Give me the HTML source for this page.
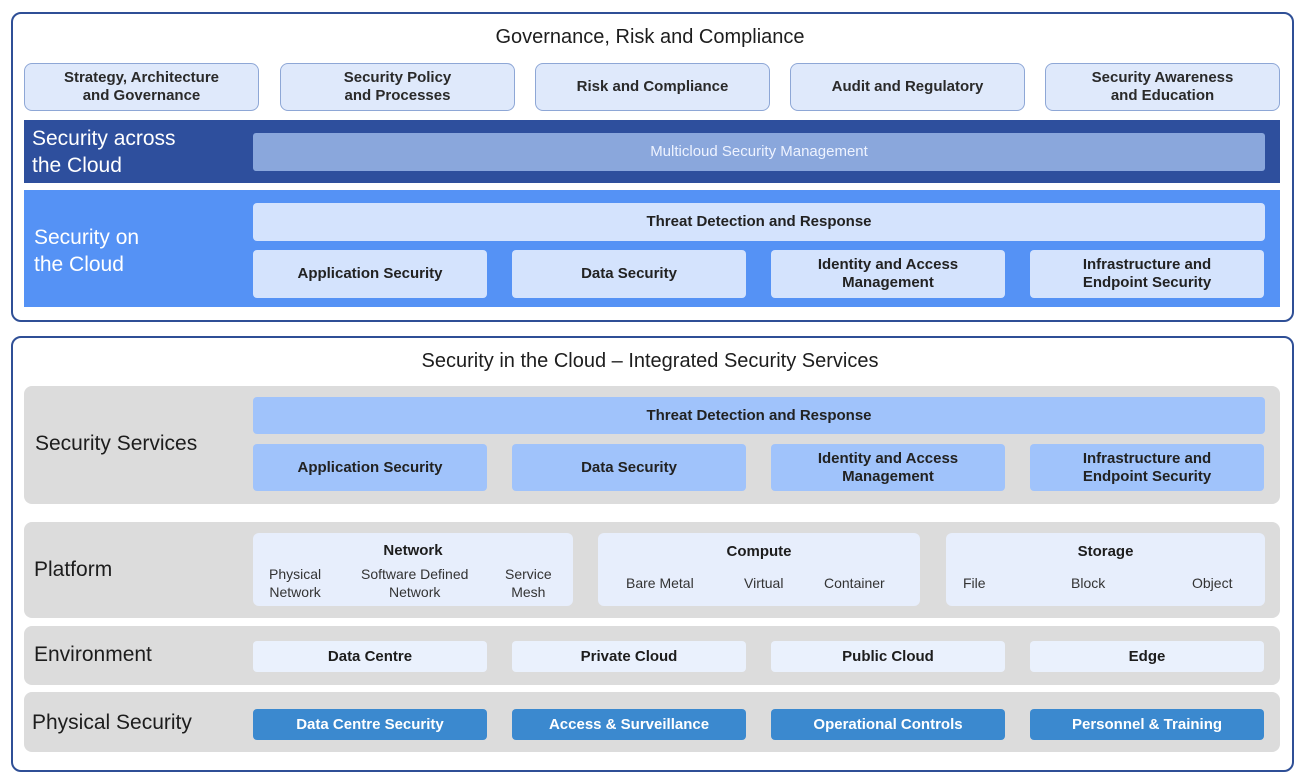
<!DOCTYPE html>
<html><head><meta charset="utf-8"><style>
body{margin:0;width:1300px;height:779px;background:#fff;font-family:"Liberation Sans",sans-serif;position:relative;overflow:hidden;color:#1d1d1d}
div{position:absolute;box-sizing:border-box}
.c{display:flex;align-items:center;justify-content:center;text-align:center;line-height:1.2}
.frame{border:2px solid #2f4f96;border-radius:10px}
.t{font-size:20px;width:1300px;left:0;text-align:center}
.g{background:#dfe9fb;border:1.5px solid #8ea7d6;border-radius:8px;top:63px;height:48px;width:235px;font-size:15px;font-weight:bold;color:#2a2a2a}
.w{background:#d4e3fd;border-radius:4px;font-size:15px;font-weight:bold;color:#222}
.s{background:#a0c3fb;border-radius:4px;font-size:15px;font-weight:bold;color:#222}
.band{background:#dcdcdc;border-radius:8px;left:24px;width:1256px}
.lbl{font-size:21px;left:34px;color:#1d1d1d}
.e{background:#eaf1fd;border-radius:4px;top:641px;height:31px;width:234px;font-size:15px;font-weight:bold}
.p{background:#3b89cf;border-radius:4px;top:709px;height:31px;width:234px;font-size:15px;font-weight:bold;color:#fff}
.sub{background:#e7eefc;border-radius:6px;top:533px;height:73px}
.h{font-size:15px;font-weight:bold;top:10px;left:0;right:0;text-align:center}
.i{font-size:14px;color:#333;line-height:18px;text-align:center}
</style></head><body>
<div class="frame" style="left:11px;top:12px;width:1283px;height:310px"></div>
<div class="t" style="top:26px">Governance, Risk and Compliance</div>
<div class="g c" style="left:24px">Strategy, Architecture<br>and Governance</div>
<div class="g c" style="left:280px">Security Policy<br>and Processes</div>
<div class="g c" style="left:535px">Risk and Compliance</div>
<div class="g c" style="left:790px">Audit and Regulatory</div>
<div class="g c" style="left:1045px">Security Awareness<br>and Education</div>
<div style="left:24px;top:120px;width:1256px;height:63px;background:#2e4f9d"></div>
<div style="left:32px;top:125px;font-size:21px;color:#fff;line-height:27px">Security across<br>the Cloud</div>
<div class="c" style="left:253px;top:133px;width:1012px;height:38px;background:#8aa7dc;color:#eef3ff;font-size:15px;border-radius:3px">Multicloud Security Management</div>
<div style="left:24px;top:190px;width:1256px;height:117px;background:#5592f5"></div>
<div style="left:34px;top:224px;font-size:21px;color:#fff;line-height:27px">Security on<br>the Cloud</div>
<div class="w c" style="left:253px;top:203px;width:1012px;height:38px">Threat Detection and Response</div>
<div class="w c" style="left:253px;top:250px;width:234px;height:48px">Application Security</div>
<div class="w c" style="left:512px;top:250px;width:234px;height:48px">Data Security</div>
<div class="w c" style="left:771px;top:250px;width:234px;height:48px">Identity and Access<br>Management</div>
<div class="w c" style="left:1030px;top:250px;width:234px;height:48px">Infrastructure and<br>Endpoint Security</div>

<div class="frame" style="left:11px;top:336px;width:1283px;height:436px"></div>
<div class="t" style="top:350px">Security in the Cloud – Integrated Security Services</div>
<div class="band" style="top:386px;height:118px"></div>
<div class="lbl" style="top:432px;left:35px">Security Services</div>
<div class="s c" style="left:253px;top:397px;width:1012px;height:37px">Threat Detection and Response</div>
<div class="s c" style="left:253px;top:444px;width:234px;height:47px">Application Security</div>
<div class="s c" style="left:512px;top:444px;width:234px;height:47px">Data Security</div>
<div class="s c" style="left:771px;top:444px;width:234px;height:47px">Identity and Access<br>Management</div>
<div class="s c" style="left:1030px;top:444px;width:234px;height:47px">Infrastructure and<br>Endpoint Security</div>

<div class="band" style="top:522px;height:96px"></div>
<div class="lbl" style="top:558px">Platform</div>
<div class="sub" style="left:253px;width:320px"><div class="h" style="top:9px">Network</div>
<div class="i" style="left:16px;top:32px">Physical<br>Network</div>
<div class="i" style="left:108px;top:32px">Software Defined<br>Network</div>
<div class="i" style="left:252px;top:32px">Service<br>Mesh</div></div>
<div class="sub" style="left:598px;width:322px"><div class="h">Compute</div>
<div class="i" style="left:28px;top:41px">Bare Metal</div>
<div class="i" style="left:146px;top:41px">Virtual</div>
<div class="i" style="left:226px;top:41px">Container</div></div>
<div class="sub" style="left:946px;width:319px"><div class="h">Storage</div>
<div class="i" style="left:17px;top:41px">File</div>
<div class="i" style="left:125px;top:41px">Block</div>
<div class="i" style="left:246px;top:41px">Object</div></div>

<div class="band" style="top:626px;height:59px"></div>
<div class="lbl" style="top:643px">Environment</div>
<div class="e c" style="left:253px">Data Centre</div>
<div class="e c" style="left:512px">Private Cloud</div>
<div class="e c" style="left:771px">Public Cloud</div>
<div class="e c" style="left:1030px">Edge</div>

<div class="band" style="top:692px;height:60px"></div>
<div class="lbl" style="top:711px;left:32px">Physical Security</div>
<div class="p c" style="left:253px">Data Centre Security</div>
<div class="p c" style="left:512px">Access &amp; Surveillance</div>
<div class="p c" style="left:771px">Operational Controls</div>
<div class="p c" style="left:1030px">Personnel &amp; Training</div>
</body></html>
